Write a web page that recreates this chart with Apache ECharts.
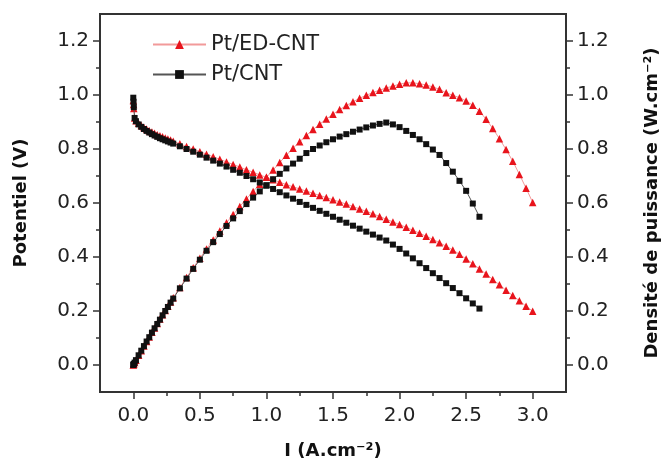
<!DOCTYPE html>
<html><head><meta charset="utf-8">
<script src="https://cdn.jsdelivr.net/npm/echarts@6/dist/echarts.min.js"></script>
<style>html,body{margin:0;padding:0;background:#fff}#c{width:664px;height:462px}</style>
</head><body><div id="c"></div>
<script>
// ---- data ----
const seriesNames = ['Pt/ED-CNT', 'Pt/CNT'];
const currentED = [0,0.002,0.004,0.01,0.02,0.04,0.06,0.08,0.10,0.12,0.14,0.16,0.18,0.20,0.22,0.24,0.26,0.28,0.30,
  0.35,0.40,0.45,0.50,0.55,0.60,0.65,0.70,0.75,0.80,0.85,0.90,0.95,1.00,
  1.05,1.10,1.15,1.20,1.25,1.30,1.35,1.40,1.45,1.50,1.55,1.60,1.65,1.70,1.75,1.80,1.85,1.90,1.95,2.00,
  2.05,2.10,2.15,2.20,2.25,2.30,2.35,2.40,2.45,2.50,2.55,2.60,2.65,2.70,2.75,2.80,2.85,2.90,2.95,3.00];
const potentialED = [0.98,0.965,0.95,0.915,0.905,0.895,0.887,0.880,0.874,0.868,0.863,0.858,0.853,0.849,0.845,0.841,0.837,0.833,0.829,
  0.819,0.809,0.800,0.790,0.781,0.771,0.762,0.752,0.743,0.733,0.723,0.714,0.704,0.695,
  0.686,0.677,0.668,0.660,0.652,0.644,0.636,0.628,0.620,0.612,0.604,0.596,0.587,0.578,0.569,0.560,0.550,0.540,0.530,0.520,
  0.510,0.499,0.488,0.477,0.465,0.453,0.440,0.426,0.410,0.393,0.375,0.356,0.337,0.317,0.297,0.277,0.257,0.238,0.218,0.199];
const powerED = [0,0.002,0.004,0.009,0.018,0.036,0.053,0.070,0.087,0.104,0.121,0.137,0.154,0.170,0.186,0.202,0.218,0.233,0.249,
  0.287,0.324,0.360,0.395,0.430,0.463,0.496,0.527,0.557,0.587,0.615,0.643,0.669,0.695,
  0.722,0.750,0.777,0.803,0.827,0.850,0.872,0.892,0.911,0.929,0.946,0.961,0.975,0.988,0.999,1.009,1.018,1.026,1.033,1.040,
  1.045,1.045,1.042,1.037,1.030,1.021,1.008,0.999,0.990,0.978,0.962,0.940,0.910,0.876,0.838,0.798,0.755,0.706,0.655,0.602];

const currentCNT = [0,0.002,0.004,0.01,0.02,0.04,0.06,0.08,0.10,0.12,0.14,0.16,0.18,0.20,0.22,0.24,0.26,0.28,0.30,
  0.35,0.40,0.45,0.50,0.55,0.60,0.65,0.70,0.75,0.80,0.85,0.90,0.95,1.00,
  1.05,1.10,1.15,1.20,1.25,1.30,1.35,1.40,1.45,1.50,1.55,1.60,1.65,1.70,1.75,1.80,1.85,
  1.90,1.95,2.00,2.05,2.10,2.15,2.20,2.25,2.30,2.35,2.40,2.45,2.50,2.55,2.60];
const potentialCNT = [0.99,0.975,0.955,0.915,0.903,0.891,0.882,0.874,0.867,0.861,0.855,0.850,0.845,0.840,0.836,0.832,0.828,0.824,0.820,
  0.810,0.800,0.790,0.779,0.768,0.757,0.746,0.735,0.723,0.712,0.700,0.688,0.676,0.664,
  0.652,0.640,0.628,0.616,0.604,0.593,0.582,0.571,0.560,0.549,0.538,0.527,0.516,0.505,0.494,0.483,0.472,
  0.461,0.446,0.430,0.413,0.395,0.377,0.359,0.340,0.322,0.303,0.285,0.266,0.247,0.228,0.209];
const powerCNT = [0,0.002,0.004,0.009,0.018,0.036,0.053,0.070,0.087,0.103,0.120,0.136,0.152,0.168,0.184,0.200,0.215,0.231,0.246,
  0.284,0.320,0.356,0.390,0.423,0.455,0.485,0.515,0.543,0.570,0.596,0.620,0.643,0.666,
  0.688,0.708,0.728,0.746,0.764,0.785,0.800,0.813,0.825,0.836,0.846,0.855,0.864,0.872,0.880,0.887,0.893,
  0.898,0.891,0.881,0.867,0.852,0.836,0.818,0.798,0.778,0.748,0.716,0.682,0.645,0.598,0.549];

const xMajorTicks = [0, 0.5, 1.0, 1.5, 2.0, 2.5, 3.0];
const xMinorTicks = [0.25, 0.75, 1.25, 1.75, 2.25, 2.75];
const yMajorTicks = [0, 0.2, 0.4, 0.6, 0.8, 1.0, 1.2];
const yMinorTicks = [0.1, 0.3, 0.5, 0.7, 0.9, 1.1];

// ---- chart ----
const FONT = 'DejaVu Sans';
const AX = '#333';
const pair = (xs, ys) => xs.map((x, i) => [x, ys[i]]);
const fmt = v => Number(v).toFixed(1);

function majorY(pos, name, gap) {
  return {
    type: 'value', position: pos, min: -0.1, max: 1.3,
    name: name, nameLocation: 'middle', nameGap: gap, nameRotate: 90,
    nameTextStyle: { fontFamily: FONT, fontWeight: 'bold', fontSize: 18, color: '#111' },
    axisLine: { show: true, onZero: false, lineStyle: { color: AX, width: 2 } },
    axisTick: { show: true, inside: false, length: 7, lineStyle: { color: AX, width: 1.5 }, customValues: yMajorTicks },
    axisLabel: { show: true, margin: 11, fontFamily: FONT, fontSize: 20, color: '#222', formatter: fmt, customValues: yMajorTicks },
    splitLine: { show: false }
  };
}
function minorY(pos) {
  return {
    type: 'value', position: pos, min: -0.1, max: 1.3,
    axisLine: { show: false, onZero: false },
    axisTick: { show: true, inside: false, length: 4, lineStyle: { color: AX, width: 1.5 }, customValues: yMinorTicks },
    axisLabel: { show: false }, splitLine: { show: false }
  };
}

const chart = echarts.init(document.getElementById('c'), null, { renderer: 'canvas' });
chart.setOption({
  animation: false,
  backgroundColor: '#fff',
  grid: { left: 100, top: 14, right: 98, bottom: 70, containLabel: false, outerBoundsMode: 'none',
          show: true, borderColor: AX, borderWidth: 2, backgroundColor: 'transparent' },
  legend: {
    orient: 'vertical', left: 147, top: 29, itemWidth: 53, itemHeight: 11, itemGap: 9,
    textStyle: { fontFamily: FONT, fontSize: 21, color: '#222' },
    data: seriesNames
  },
  xAxis: [{
    type: 'value', position: 'bottom', min: -0.25, max: 3.25,
    name: 'I (A.cm⁻²)', nameLocation: 'middle', nameGap: 50,
    nameTextStyle: { fontFamily: FONT, fontWeight: 'bold', fontSize: 18, color: '#111' },
    axisLine: { show: true, onZero: false, lineStyle: { color: AX, width: 2 } },
    axisTick: { show: true, inside: false, length: 7, lineStyle: { color: AX, width: 1.5 }, customValues: xMajorTicks },
    axisLabel: { show: true, margin: 14, fontFamily: FONT, fontSize: 20, color: '#222', formatter: fmt, customValues: xMajorTicks },
    splitLine: { show: false }
  }, {
    type: 'value', position: 'bottom', min: -0.25, max: 3.25,
    axisLine: { show: false, onZero: false },
    axisTick: { show: true, inside: false, length: 4, lineStyle: { color: AX, width: 1.5 }, customValues: xMinorTicks },
    axisLabel: { show: false }, splitLine: { show: false }
  }],
  yAxis: [
    majorY('left', 'Potentiel (V)', 70),
    majorY('right', 'Densité de puissance (W.cm⁻²)', 77),
    minorY('left'),
    minorY('right')
  ],
  series: [
    { name: seriesNames[0], type: 'line', yAxisIndex: 0, data: pair(currentED, potentialED),
      symbol: 'triangle', symbolSize: 7.5, itemStyle: { color: '#e8141c' },
      lineStyle: { color: '#f29a9a', width: 1 }, z: 2 },
    { name: seriesNames[0], type: 'line', yAxisIndex: 1, data: pair(currentED, powerED),
      symbol: 'triangle', symbolSize: 7.5, itemStyle: { color: '#e8141c' },
      lineStyle: { color: '#f29a9a', width: 1 }, z: 2 },
    { name: seriesNames[1], type: 'line', yAxisIndex: 0, data: pair(currentCNT, potentialCNT),
      symbol: 'rect', symbolSize: 6, itemStyle: { color: '#111' },
      lineStyle: { color: '#555', width: 1 }, z: 3 },
    { name: seriesNames[1], type: 'line', yAxisIndex: 1, data: pair(currentCNT, powerCNT),
      symbol: 'rect', symbolSize: 6, itemStyle: { color: '#111' },
      lineStyle: { color: '#555', width: 1 }, z: 3 }
  ]
});
</script>
</body></html>
